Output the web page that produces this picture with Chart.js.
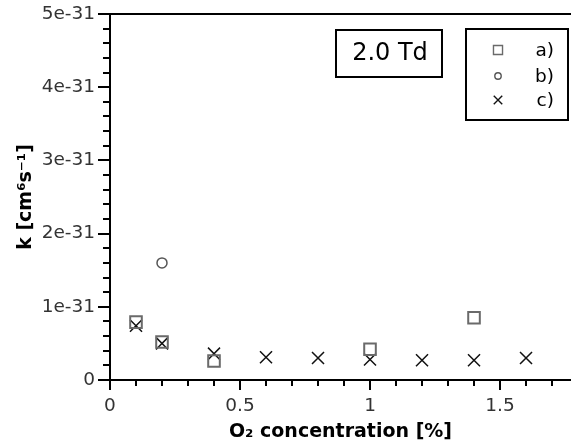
<!DOCTYPE html>
<html lang="en">
  <head>
    <meta charset="UTF-8" />
    <title>k vs O2 concentration</title>
    <script src="https://cdn.jsdelivr.net/npm/chart.js"></script>
    <style>
      html, body { margin: 0; padding: 0; background: #fff; overflow: hidden; }
      #wrap { width: 571px; height: 443px; }
    </style>
  </head>
  <body>
    <div id="wrap"><canvas id="kChart"></canvas></div>
    <script>
      // data (k in cm^6 s^-1, O2 in %)
      const seriesNames = ["a)", "b)", "c)"];
      const aX = [0.1, 0.2, 0.4, 1.0, 1.4];
      const aK = [7.9e-32, 5.2e-32, 2.6e-32, 4.2e-32, 8.5e-32];
      const bX = [0.2];
      const bK = [1.6e-31];
      const cX = [0.1, 0.2, 0.4, 0.6, 0.8, 1.0, 1.2, 1.4, 1.6];
      const cK = [7.4e-32, 5.0e-32, 3.6e-32, 3.1e-32, 3.0e-32, 2.8e-32, 2.7e-32, 2.7e-32, 3.0e-32];
      const xTickLabels = ["0", "0.5", "1", "1.5"];
      const yTickLabels = ["0", "1e-31", "2e-31", "3e-31", "4e-31", "5e-31"];
      const boxLabel = "2.0 Td";

      Chart.defaults.font.family = "'DejaVu Sans', sans-serif";

      const toPoints = (xs, ys) => xs.map((x, i) => ({ x: x, y: ys[i] }));

      // minor tick every 0.1 on x, every 2e-32 on y; labels only on majors
      function xTicks(scale) {
        const out = [];
        for (let i = 0; i <= 17; i++) out.push({ value: i / 10, big: i % 5 === 0 });
        scale.ticks = out;
      }
      function yTicks(scale) {
        const out = [];
        for (let i = 0; i <= 25; i++) out.push({ value: i * 2e-32, big: i % 5 === 0 });
        scale.ticks = out;
      }

      const overlay = {
        id: "overlay",
        afterDraw(chart) {
          const ctx = chart.ctx;
          const area = chart.chartArea;
          const xs = chart.scales.x;
          const ys = chart.scales.y;
          ctx.save();
          ctx.strokeStyle = "#000";
          ctx.lineWidth = 2;
          ctx.beginPath();
          ctx.moveTo(area.left - 1, area.top);
          ctx.lineTo(area.right, area.top);
          ctx.stroke();

          ctx.beginPath();
          xs.ticks.forEach((t) => {
            const p = Math.round(xs.getPixelForValue(t.value));
            ctx.moveTo(p, area.bottom);
            ctx.lineTo(p, area.bottom + (t.big ? 10 : 6));
          });
          ys.ticks.forEach((t) => {
            const p = Math.round(ys.getPixelForValue(t.value));
            ctx.moveTo(area.left, p);
            ctx.lineTo(area.left - (t.big ? 12 : 7), p);
          });
          ctx.stroke();

          // "2.0 Td" box
          ctx.strokeRect(336, 30, 106, 47);
          ctx.fillStyle = "#000";
          ctx.font = "24px 'DejaVu Sans'";
          ctx.textAlign = "center";
          ctx.textBaseline = "middle";
          ctx.fillText(boxLabel, 390, 54);

          // legend box
          ctx.strokeRect(466, 29, 102, 91);
          const rows = [50, 76, 100];
          const sizes = [6.4, 3.2, 6];
          ctx.font = "18.5px 'DejaVu Sans'";
          ctx.textAlign = "right";
          chart.data.datasets.forEach((ds, i) => {
            ctx.strokeStyle = ds.borderColor;
            ctx.fillStyle = "rgba(0,0,0,0)";
            ctx.lineWidth = 1.4;
            Chart.helpers.drawPoint(ctx, { pointStyle: ds.pointStyle, radius: sizes[i], rotation: 0, borderWidth: 1.4 }, 498, rows[i]);
            ctx.fillStyle = "#000";
            ctx.fillText(seriesNames[i], 554, rows[i] + 1);
          });
          ctx.restore();
        },
      };

      const tickFont = { size: 18.5 };

      new Chart(document.getElementById("kChart"), {
        type: "scatter",
        data: {
          datasets: [
            {
              label: seriesNames[0],
              data: toPoints(aX, aK),
              pointStyle: "rect",
              pointRadius: 8.2,
              borderColor: "#6a6a6a",
              backgroundColor: "rgba(0,0,0,0)",
              borderWidth: 2,
            },
            {
              label: seriesNames[1],
              data: toPoints(bX, bK),
              pointStyle: "circle",
              pointRadius: 5,
              borderColor: "#555",
              backgroundColor: "rgba(0,0,0,0)",
              borderWidth: 1.5,
            },
            {
              label: seriesNames[2],
              data: toPoints(cX, cK),
              pointStyle: "crossRot",
              pointRadius: 8.5,
              borderColor: "#111",
              backgroundColor: "rgba(0,0,0,0)",
              borderWidth: 1.5,
            },
          ],
        },
        options: {
          responsive: true,
          maintainAspectRatio: false,
          animation: false,
          layout: { autoPadding: false, padding: { top: 14, right: 0, left: 0, bottom: 0 } },
          plugins: { legend: { display: false }, tooltip: { enabled: false } },
          scales: {
            x: {
              type: "linear",
              min: 0,
              max: 1.773,
              afterBuildTicks: xTicks,
              afterFit: (s) => {
                s.height = 63;
                s.paddingLeft = 0;
                s.paddingRight = 0;
              },
              grid: { display: false, drawTicks: false },
              border: { display: true, color: "#000", width: 2 },
              ticks: {
                autoSkip: false,
                maxRotation: 0,
                padding: 15,
                color: "#333",
                font: tickFont,
                callback: (v, i, ticks) => (ticks[i].big ? xTickLabels[Math.round(v * 2)] : ""),
              },
              title: {
                display: true,
                text: "O₂ concentration [%]",
                color: "#000",
                font: { size: 19, weight: "bold" },
                padding: 0,
              },
            },
            y: {
              type: "linear",
              min: 0,
              max: 5e-31,
              afterBuildTicks: yTicks,
              afterFit: (s) => {
                s.width = 110;
                s.paddingTop = 0;
                s.paddingBottom = 0;
              },
              grid: { display: false, drawTicks: false },
              border: { display: true, color: "#000", width: 2 },
              ticks: {
                autoSkip: false,
                padding: 15,
                color: "#333",
                font: tickFont,
                callback: (v, i, ticks) => (ticks[i].big ? yTickLabels[Math.round(v / 1e-31)] : ""),
              },
              title: {
                display: true,
                text: "k [cm⁶s⁻¹]",
                color: "#000",
                font: { size: 19, weight: "bold" },
                padding: { top: 15, bottom: 0 },
              },
            },
          },
        },
        plugins: [overlay],
      });
    </script>
  </body>
</html>
